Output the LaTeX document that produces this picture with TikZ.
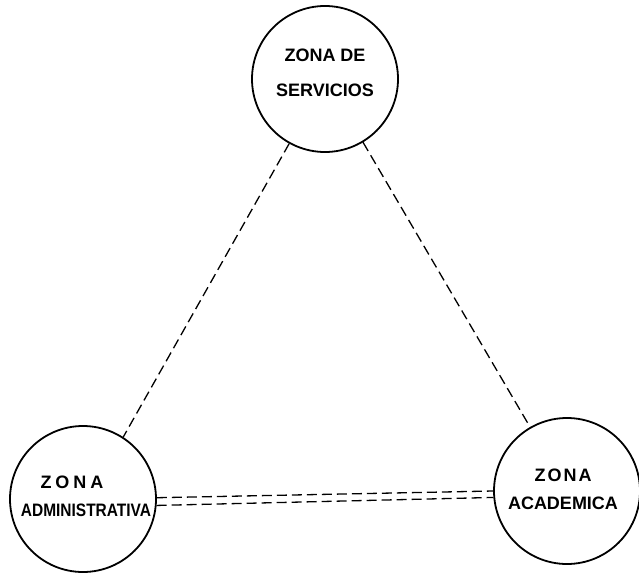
\documentclass[tikz,border=0pt]{standalone}
\usepackage{fontspec}
\setmainfont{Liberation Sans}
\begin{document}
\begin{tikzpicture}[x=1pt,y=-1pt,
  zone/.style={circle,draw,line width=1.8pt,inner sep=0pt,minimum size=146pt},
  lbl/.style={inner sep=0pt,font=\fontsize{18}{20}\selectfont\bfseries},
  link/.style={dashed,dash pattern=on 10pt off 5pt,line width=1.3pt}]
\useasboundingbox (0,0) rectangle (639,578);
\node[zone] (serv) at (325,79) {};
\node[zone] (admin) at (83,499) {};
\node[zone] (acad) at (567,491) {};
\node[lbl] (t1) at (325,55) {ZONA DE};
\node[lbl] (t2) at (325,90) {SERVICIOS};
\node[lbl] (t3) at (72,482) {Z\kern4pt O\kern4pt N\kern4pt A};
\node[lbl,xscale=0.86] (t4) at (86,510) {ADMINISTRATIVA};
\node[lbl] (t5) at (563,475) {Z\kern2pt O\kern2pt N\kern2pt A};
\node[lbl] (t6) at (563,503) {ACADEMICA};
\draw[link] (serv.241) -- (admin.57);
\draw[link] (serv.301) -- (acad.120);
\draw[link] (admin.1.5) -- (acad.180);
\draw[link] (admin.-5.8) -- (acad.185.6);
\end{tikzpicture}
\end{document}
